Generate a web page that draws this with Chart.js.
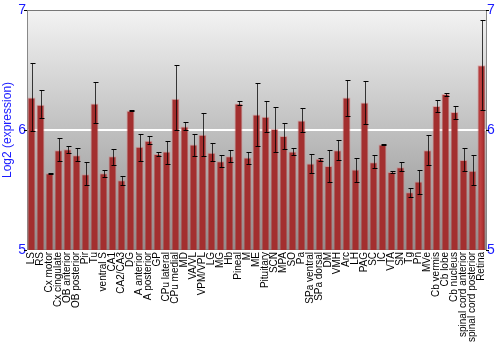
<!DOCTYPE html>
<html>
<head>
<meta charset="utf-8">
<script src="https://cdn.jsdelivr.net/npm/chart.js@4"></script>
<style>
  html, body { margin: 0; padding: 0; background: #fff; }
  #wrap { width: 500px; height: 350px; }
</style>
</head>
<body>
<div id="wrap"><canvas id="chart" width="500" height="350"></canvas></div>
<script>
// Data
const regions = ['LS', 'RS', 'Cx motor', 'Cx cingulate', 'OB anterior', 'OB posterior', 'Pir', 'Tu',
    'ventral S', 'CA1', 'CA2/CA3', 'DG', 'A anterior', 'A posterior', 'GP', 'CPu lateral', 'CPu medial',
    'MD', 'VA/VL', 'VPM/VPL', 'LG', 'MG', 'Hb', 'Pineal', 'M', 'ME', 'Pituitary', 'SCN', 'MPA', 'SO',
    'Pa', 'SPa ventral', 'SPa dorsal', 'DM', 'VMH', 'Arc', 'LH', 'PAG', 'SC', 'IC', 'VTA', 'SN', 'Tg',
    'Pn', 'MVe', 'Cb vermis', 'Cb lobe', 'Cb nucleus', 'spinal cord anterior', 'spinal cord posterior', 'Retina'];

const expression = [6.27, 6.21, 5.64, 5.83, 5.84, 5.79, 5.63, 6.22, 5.64, 5.78, 5.58, 6.16, 5.86, 5.91, 5.80,
    5.82, 6.26, 6.03, 5.88, 5.96, 5.81, 5.74, 5.78, 6.22, 5.77, 6.13, 6.11, 6.01, 5.95, 5.82, 6.08, 5.72,
    5.76, 5.70, 5.83, 6.27, 5.67, 6.23, 5.73, 5.88, 5.65, 5.69, 5.48, 5.57, 5.83, 6.20, 6.30, 6.15, 5.75,
    5.66, 6.54];

const errLow = [5.99, 6.10, 5.635, 5.74, 5.81, 5.74, 5.54, 6.06, 5.61, 5.71, 5.54, 6.155, 5.74, 5.88, 5.78,
    5.72, 6.00, 6.00, 5.78, 5.78, 5.74, 5.69, 5.73, 6.21, 5.72, 5.87, 5.98, 5.82, 5.84, 5.79, 5.98, 5.64,
    5.74, 5.57, 5.75, 6.12, 5.57, 6.05, 5.68, 5.875, 5.645, 5.66, 5.44, 5.47, 5.71, 6.15, 6.28, 6.09, 5.66,
    5.54, 6.17];

const errHigh = [6.56, 6.33, 5.645, 5.93, 5.87, 5.85, 5.73, 6.40, 5.67, 5.84, 5.62, 6.165, 5.97, 5.95, 5.82,
    5.91, 6.54, 6.07, 5.97, 6.14, 5.89, 5.79, 5.83, 6.24, 5.82, 6.39, 6.24, 6.19, 6.06, 5.85, 6.18, 5.80,
    5.77, 5.83, 5.92, 6.42, 5.77, 6.41, 5.79, 5.885, 5.655, 5.73, 5.52, 5.67, 5.96, 6.25, 6.31, 6.20, 5.85,
    5.79, 6.92];

const yTicks = [5, 6, 7];

const blue = '#1a1aff';

// Gray gradient behind the plot area
const plotBackground = {
    id: 'plotBackground',
    beforeDraw(chart) {
        const { ctx, chartArea: a } = chart;
        const g = ctx.createLinearGradient(0, a.top, 0, a.bottom);
        g.addColorStop(0, '#f3f3f3');
        g.addColorStop(1, '#8c8c8c');
        ctx.save();
        ctx.fillStyle = g;
        ctx.fillRect(a.left, a.top, a.right - a.left, a.bottom - a.top);
        ctx.restore();
    }
};

// Give each bar a horizontal shaded fill
const barShading = {
    id: 'barShading',
    beforeDatasetsDraw(chart) {
        const { ctx } = chart;
        chart.getDatasetMeta(0).data.forEach(bar => {
            const half = bar.width / 2;
            const g = ctx.createLinearGradient(bar.x - half, 0, bar.x + half, 0);
            g.addColorStop(0, '#a32f2f');
            g.addColorStop(0.35, '#c04242');
            g.addColorStop(0.7, '#ad3232');
            g.addColorStop(1, '#751414');
            bar.options.backgroundColor = g;
        });
    }
};

// Error bars
const errorBars = {
    id: 'errorBars',
    afterDatasetsDraw(chart) {
        const { ctx } = chart;
        const y = chart.scales.y;
        ctx.save();
        chart.getDatasetMeta(0).data.forEach((bar, i) => {
            const yLo = Math.round(y.getPixelForValue(errLow[i])) + 0.5;
            const yHi = Math.round(y.getPixelForValue(errHigh[i])) + 0.5;
            const x = Math.round(bar.x) + 0.5;
            ctx.strokeStyle = 'rgba(0,0,0,0.75)';
            ctx.lineWidth = 1;
            ctx.beginPath();
            ctx.moveTo(x, yLo);
            ctx.lineTo(x, yHi);
            ctx.stroke();
            ctx.strokeStyle = '#000';
            ctx.beginPath();
            ctx.moveTo(x - 2, yLo);
            ctx.lineTo(x + 3, yLo);
            ctx.moveTo(x - 2, yHi);
            ctx.lineTo(x + 3, yHi);
            ctx.stroke();
        });
        ctx.restore();
    }
};

const yTickOptions = {
    color: blue,
    font: { family: 'Liberation Sans, Arial, sans-serif', size: 14 },
    padding: 1
};

new Chart(document.getElementById('chart'), {
    type: 'bar',
    data: {
        labels: regions,
        datasets: [{
            data: expression,
            backgroundColor: '#b53838',
            borderColor: 'rgba(220,120,120,0.45)',
            borderWidth: 1,
            borderSkipped: 'bottom',
            categoryPercentage: 1,
            barPercentage: 0.9
        }]
    },
    options: {
        responsive: false,
        animation: false,
        layout: { padding: { top: 10, bottom: 6, left: 0, right: 0 } },
        plugins: {
            legend: { display: false },
            tooltip: { enabled: false }
        },
        scales: {
            x: {
                offset: true,
                grid: { display: false, drawTicks: false },
                border: { color: '#777' },
                ticks: {
                    color: '#000',
                    autoSkip: false,
                    minRotation: 90,
                    maxRotation: 90,
                    padding: 2,
                    font: { family: 'Liberation Sans, Arial, sans-serif', size: 10 }
                }
            },
            y: {
                position: 'left',
                min: 5,
                max: 7,
                afterBuildTicks: axis => { axis.ticks = yTicks.map(v => ({ value: v })); },
                afterFit: axis => { axis.width = 27; },
                border: { color: '#888' },
                grid: {
                    color: ctx => ctx.tick && ctx.tick.value === 6 ? '#ffffff' : 'rgba(0,0,0,0)',
                    lineWidth: ctx => ctx.tick && ctx.tick.value === 6 ? 2 : 0,
                    drawTicks: false
                },
                ticks: yTickOptions,
                title: {
                    display: true,
                    text: 'Log2 (expression)',
                    color: blue,
                    padding: 0,
                    font: { family: 'Liberation Sans, Arial, sans-serif', size: 12 }
                }
            },
            y2: {
                position: 'right',
                min: 5,
                max: 7,
                afterBuildTicks: axis => { axis.ticks = yTicks.map(v => ({ value: v })); },
                afterFit: axis => { axis.width = 14; },
                border: { color: '#888' },
                grid: { display: false, drawTicks: false },
                ticks: yTickOptions
            }
        }
    },
    plugins: [plotBackground, barShading, errorBars,
        {
            id: 'topBorder',
            afterDraw(chart) {
                const { ctx, chartArea: a } = chart;
                ctx.save();
                ctx.strokeStyle = '#777';
                ctx.lineWidth = 1;
                ctx.beginPath();
                ctx.moveTo(a.left, a.top + 0.5);
                ctx.lineTo(a.right, a.top + 0.5);
                ctx.stroke();
                // small black tick marks at the y labels
                ctx.strokeStyle = '#000';
                yTicks.forEach(v => {
                    const py = Math.round(chart.scales.y.getPixelForValue(v)) + 0.5;
                    ctx.beginPath();
                    ctx.moveTo(a.left - 3, py);
                    ctx.lineTo(a.left, py);
                    ctx.moveTo(a.right, py);
                    ctx.lineTo(a.right + 3, py);
                    ctx.stroke();
                });
                ctx.restore();
            }
        }]
});
</script>
</body>
</html>
